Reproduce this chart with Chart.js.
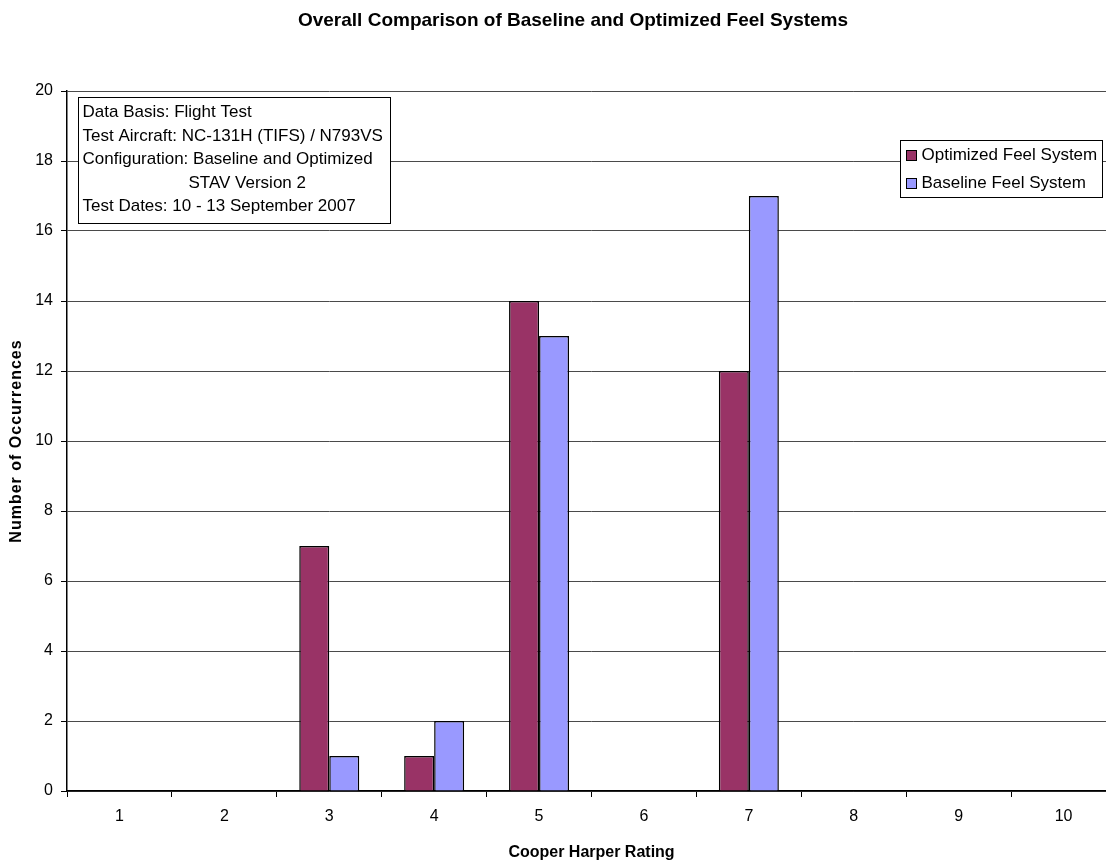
<!DOCTYPE html>
<html>
<head>
<meta charset="utf-8">
<script src="https://cdn.jsdelivr.net/npm/chart.js@4/dist/chart.umd.min.js"></script>
<style>
  html, body { margin: 0; padding: 0; background: #fff; overflow: hidden; }
  #wrap { width: 1120px; height: 863px; }
</style>
</head>
<body>
<div id="wrap"><canvas id="chart" width="1120" height="863"></canvas></div>
<script>
// data
const ratings   = ['1', '2', '3', '4', '5', '6', '7', '8', '9', '10'];
const optimized = [0, 0, 7, 1, 14, 0, 12, 0, 0, 0];
const baseline  = [0, 0, 1, 2, 13, 0, 17, 0, 0, 0];
const yTicks    = [0, 2, 4, 6, 8, 10, 12, 14, 16, 18, 20];

const chartTitle = 'Overall Comparison of Baseline and Optimized Feel Systems';
const yTitle     = 'Number of Occurrences';
const xTitle     = 'Cooper Harper Rating';

const infoLines = [
  { text: 'Data Basis: Flight Test', indent: 0 },
  { text: 'Test Aircraft: NC-131H (TIFS) / N793VS', indent: 0 },
  { text: 'Configuration: Baseline and Optimized', indent: 0 },
  { text: 'STAV Version 2', indent: 106 },
  { text: 'Test Dates: 10 - 13 September 2007', indent: 0 },
];

const FONT = '"Liberation Sans", Arial, sans-serif';
const MAROON = '#993366';
const PERIWINKLE = '#9999FF';

// title, y title, text box and legend
const boxesPlugin = {
  id: 'boxes',
  afterDraw(chart) {
    const ctx = chart.ctx;
    const area = chart.chartArea;
    ctx.save();
    ctx.fillStyle = '#000';
    ctx.textBaseline = 'middle';

    // main title
    ctx.textAlign = 'center';
    ctx.font = 'bold 19px ' + FONT;
    ctx.fillText(chartTitle, 573, 21);

    // rotated y title, slightly spaced like the original
    ctx.save();
    ctx.translate(17, (area.top + area.bottom) / 2);
    ctx.rotate(-Math.PI / 2);
    ctx.font = 'bold 16px ' + FONT;
    ctx.letterSpacing = '1px';
    ctx.fillText(yTitle, 0, 0);
    ctx.restore();

    ctx.textAlign = 'left';
    ctx.font = '17px ' + FONT;

    // info box
    const bx = 78.5, by = 97.5, bw = 312, bh = 126;
    ctx.fillStyle = '#fff';
    ctx.fillRect(bx, by, bw, bh);
    ctx.strokeStyle = '#000';
    ctx.lineWidth = 1;
    ctx.strokeRect(bx, by, bw, bh);
    ctx.fillStyle = '#000';
    infoLines.forEach((l, i) => {
      ctx.fillText(l.text, bx + 4 + l.indent, by + 15 + i * 23.5);
    });

    // legend
    const lx = 900.5, ly = 140.5, lw = 202, lh = 57;
    ctx.fillStyle = '#fff';
    ctx.fillRect(lx, ly, lw, lh);
    ctx.strokeRect(lx, ly, lw, lh);
    [[MAROON, 'Optimized Feel System'], [PERIWINKLE, 'Baseline Feel System']].forEach(([c, t], i) => {
      const cy = ly + 15 + i * 28;
      ctx.fillStyle = c;
      ctx.fillRect(lx + 6, cy - 5, 10, 10);
      ctx.strokeRect(lx + 6, cy - 5, 10, 10);
      ctx.fillStyle = '#000';
      ctx.fillText(t, lx + 21, cy);
    });
    ctx.restore();
  }
};

new Chart(document.getElementById('chart'), {
  type: 'bar',
  data: {
    labels: ratings,
    datasets: [
      { label: 'Optimized Feel System', data: optimized, backgroundColor: MAROON, borderColor: '#000', borderWidth: 1.5 },
      { label: 'Baseline Feel System',  data: baseline,  backgroundColor: PERIWINKLE, borderColor: '#000', borderWidth: 1.5 },
    ],
  },
  options: {
    responsive: false,
    animation: false,
    devicePixelRatio: 1,
    layout: { padding: { left: 0, right: 4, top: 91, bottom: 0 } },
    datasets: { bar: { categoryPercentage: 0.572, barPercentage: 1.0 } },
    plugins: {
      legend: { display: false },
      tooltip: { enabled: false },
      title: { display: false },
    },
    scales: {
      x: {
        offset: true,
        grid: { display: true, drawOnChartArea: false, offset: true, color: '#000', tickLength: 6, tickColor: '#000' },
        border: { display: true, color: '#000', width: 1.5 },
        ticks: { color: '#000', font: { family: FONT, size: 16 }, padding: 10, maxRotation: 0 },
        title: { display: true, text: xTitle, color: '#000', font: { family: FONT, size: 16, weight: 'bold' }, padding: { top: 4, bottom: 1 } },
        afterFit: s => { s.height = 72; },
      },
      y: {
        min: 0, max: 20,
        afterBuildTicks: s => { s.ticks = yTicks.map(v => ({ value: v })); },
        grid: { color: '#4a4a4a', lineWidth: 1, tickLength: 6, tickColor: '#000' },
        border: { display: true, color: '#000', width: 1.5 },
        ticks: { color: '#000', font: { family: FONT, size: 16 }, padding: 8 },
        title: { display: false },
        afterFit: s => { s.width = 67; },
      },
    },
  },
  plugins: [boxesPlugin],
});
</script>
</body>
</html>
